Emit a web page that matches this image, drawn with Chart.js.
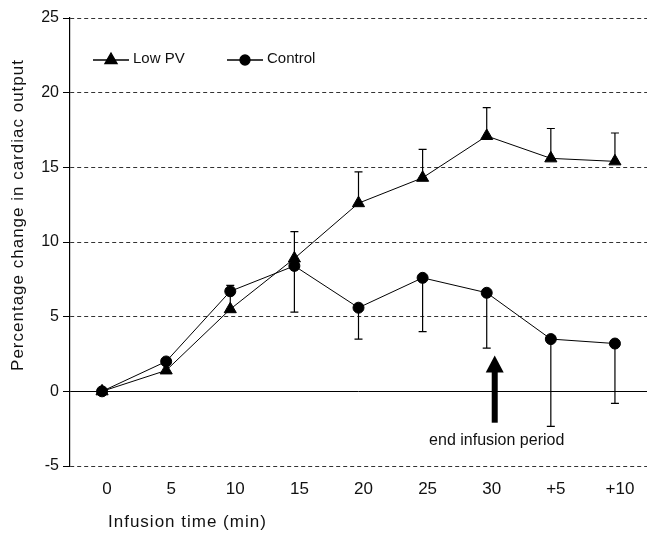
<!DOCTYPE html>
<html>
<head>
<meta charset="utf-8">
<script src="https://cdn.jsdelivr.net/npm/chart.js"></script>
<style>
  body { margin: 0; background: #fff; }
  #wrap { width: 655px; height: 537px; position: relative; }
</style>
</head>
<body>
<div id="wrap"><canvas id="chart"></canvas></div>
<script>
const categories = ['0', '5', '10', '15', '20', '25', '30', '+5', '+10'];
const lowPV = [0, 1.4, 5.5, 8.9, 12.6, 14.3, 17.1, 15.6, 15.4];
const lowPVErr = [0, 0, 1.6, 1.8, 2.1, 1.9, 1.9, 2.0, 1.9];     // drawn upward
const control = [0, 2.0, 6.7, 8.4, 5.6, 7.6, 6.6, 3.5, 3.2];
const controlErr = [0, 0, 0, 3.1, 2.1, 3.6, 3.7, 5.85, 4.0];  // drawn downward
const yTicks = [-5, 0, 5, 10, 15, 20, 25];

const FONT = '"Liberation Sans", Arial, sans-serif';

const errorBars = {
  id: 'errorBars',
  beforeDatasetsDraw(chart) {
    const { ctx, scales: { x, y } } = chart;
    ctx.save();
    ctx.strokeStyle = '#000';
    ctx.lineWidth = 1.2;
    const draw = (vals, errs, dir) => {
      vals.forEach((v, i) => {
        if (!errs[i]) return;
        const px = x.getPixelForValue(i);
        const y0 = y.getPixelForValue(v);
        const y1 = y.getPixelForValue(v + dir * errs[i]);
        ctx.beginPath();
        ctx.moveTo(px, y0);
        ctx.lineTo(px, y1);
        ctx.moveTo(px - 4, y1);
        ctx.lineTo(px + 4, y1);
        ctx.stroke();
      });
    };
    draw(lowPV, lowPVErr, 1);
    draw(control, controlErr, -1);
    ctx.restore();
  }
};

const extras = {
  id: 'extras',
  afterDraw(chart) {
    const { ctx, scales: { x, y } } = chart;
    ctx.save();
    ctx.fillStyle = '#111';
    ctx.strokeStyle = '#000';

    // legend
    ctx.lineWidth = 1.3;
    const legend = [
      { label: 'Low PV', style: 'triangle', radius: 7, x0: 93 },
      { label: 'Control', style: 'circle', radius: 5, x0: 227 }
    ];
    legend.forEach(l => {
      const ly = 60;
      ctx.beginPath();
      ctx.moveTo(l.x0, ly);
      ctx.lineTo(l.x0 + 36, ly);
      ctx.stroke();
      ctx.fillStyle = '#000';
      Chart.helpers.drawPoint(ctx, { pointStyle: l.style, radius: l.radius, borderWidth: 1, rotation: 0 }, l.x0 + 18, ly);
      ctx.fillStyle = '#111';
      ctx.font = '15px ' + FONT;
      ctx.textAlign = 'left';
      ctx.textBaseline = 'middle';
      ctx.fillText(l.label, l.x0 + 40, ly - 1);
    });

    // end of infusion arrow
    const ax = x.getPixelForValue(6) + 8;
    const tip = y.getPixelForValue(2.4);
    const tail = y.getPixelForValue(-2.1);
    ctx.fillStyle = '#000';
    ctx.fillRect(ax - 3, tip + 14, 6, tail - tip - 14);
    ctx.beginPath();
    ctx.moveTo(ax, tip);
    ctx.lineTo(ax + 9, tip + 17);
    ctx.lineTo(ax - 9, tip + 17);
    ctx.closePath();
    ctx.fill();
    ctx.fillStyle = '#111';
    ctx.font = '16px ' + FONT;
    ctx.textAlign = 'center';
    ctx.textBaseline = 'middle';
    ctx.fillText('end infusion period', ax + 2, y.getPixelForValue(-3.3));

    // axis titles
    ctx.font = '17px ' + FONT;
    ctx.letterSpacing = '1px';
    ctx.textAlign = 'left';
    ctx.textBaseline = 'middle';
    ctx.fillText('Infusion time (min)', 108, 522);
    ctx.translate(18, 215);
    ctx.rotate(-Math.PI / 2);
    ctx.textAlign = 'center';
    ctx.fillText('Percentage change in cardiac output', 0, 0);
    ctx.restore();
  }
};

new Chart(document.getElementById('chart'), {
  type: 'line',
  data: {
    labels: categories,
    datasets: [
      {
        label: 'Low PV',
        data: lowPV,
        borderColor: '#000',
        backgroundColor: '#000',
        borderWidth: 1,
        pointStyle: 'triangle',
        pointRadius: 7,
        pointBorderWidth: 1,
        tension: 0
      },
      {
        label: 'Control',
        data: control,
        borderColor: '#000',
        backgroundColor: '#000',
        borderWidth: 1,
        pointStyle: 'circle',
        pointRadius: 5.5,
        pointBorderWidth: 1,
        tension: 0
      }
    ]
  },
  options: {
    responsive: true,
    maintainAspectRatio: false,
    animation: false,
    layout: { padding: { top: 18, left: 0, right: 0, bottom: 0 } },
    plugins: {
      legend: { display: false },
      tooltip: { enabled: false }
    },
    scales: {
      x: {
        offset: true,
        grid: { display: false, drawTicks: false },
        border: { display: false },
        ticks: {
          color: '#111',
          padding: 13,
          labelOffset: 5,
          font: { family: FONT, size: 17 }
        },
        afterFit(scale) { scale.height = 71; }
      },
      y: {
        min: -5,
        max: 25,
        afterBuildTicks(scale) { scale.ticks = yTicks.map(v => ({ value: v })); },
        grid: {
          color: ctx => ctx.tick && ctx.tick.value === 0 ? '#000' : '#333',
          lineWidth: 1,
          tickLength: 7,
          tickColor: '#000'
        },
        border: {
          display: true,
          color: '#000',
          width: 1.2,
          dash: ctx => ctx.tick && ctx.tick.value === 0 ? [] : [4, 3]
        },
        ticks: {
          color: '#111',
          padding: 4,
          font: { family: FONT, size: 16 }
        },
        afterFit(scale) { scale.width = 70; }
      }
    }
  },
  plugins: [errorBars, extras]
});
</script>
</body>
</html>
